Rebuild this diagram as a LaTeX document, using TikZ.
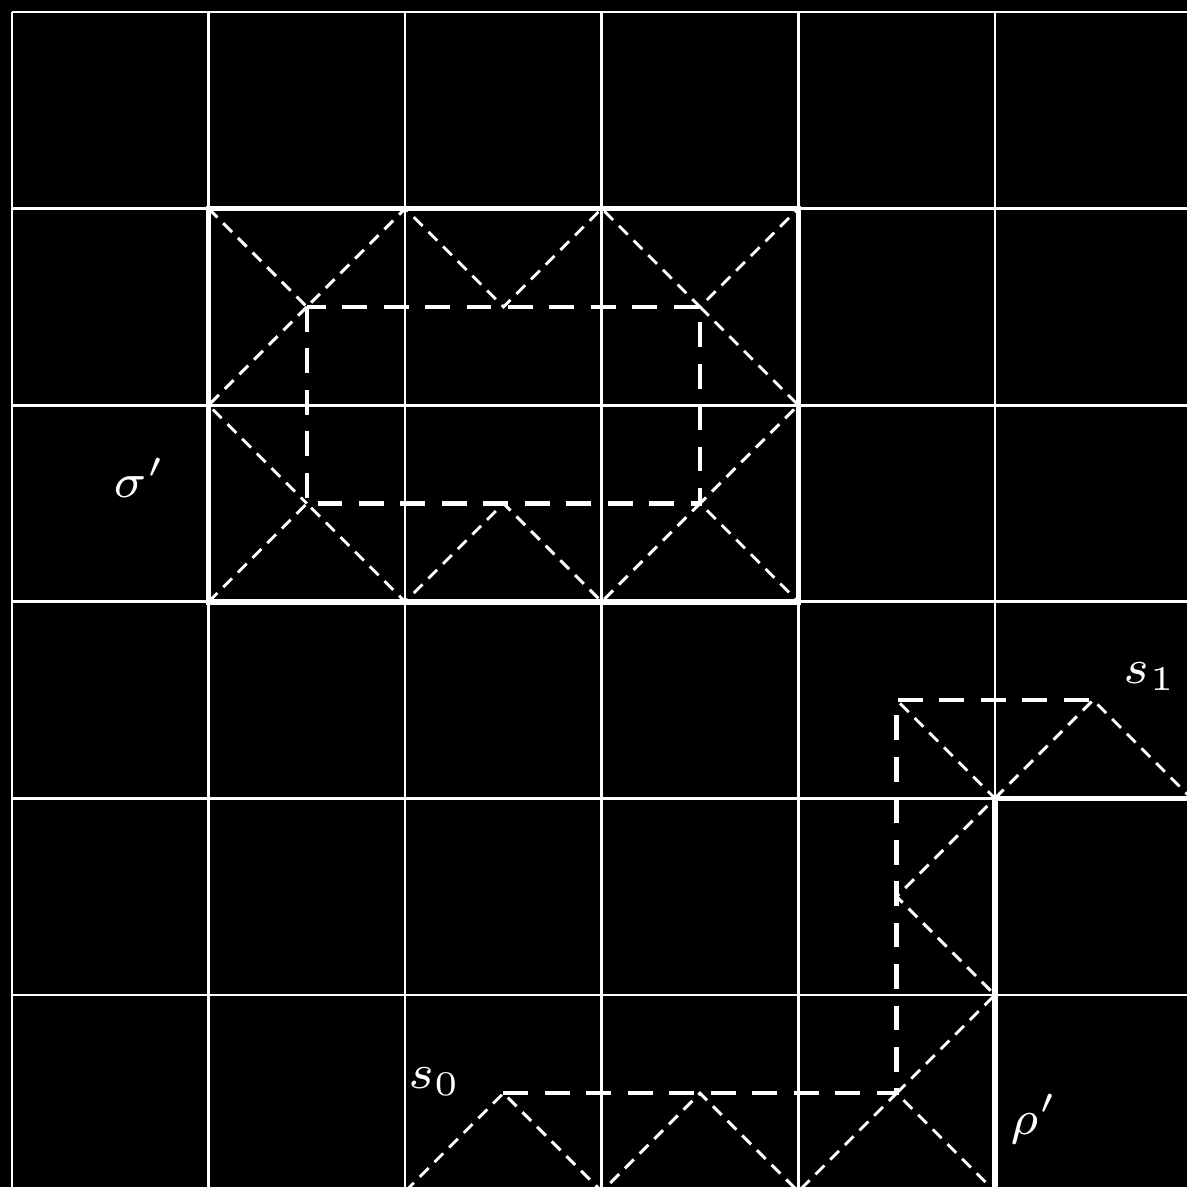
\documentclass[tikz,border=0pt]{standalone}
\begin{document}
\begin{tikzpicture}[x=1cm,y=-1cm,
  gridline/.style={white,line width=0.38pt},
  boundline/.style={white,line width=0.8pt},
  routeline/.style={white,line width=0.65pt,dash pattern=on 3.6pt off 2.4pt},
  diagline/.style={white,line width=0.42pt,dash pattern=on 1.8pt off 1.2pt},
  lab/.style={text=white,font=\fontsize{7.5}{9}\selectfont,inner sep=0pt}]
\useasboundingbox (-0.061,-0.061) rectangle (5.977,5.977);
\fill[black] (-0.061,-0.061) rectangle (5.977,5.977);
\clip (-0.061,-0.061) rectangle (5.977,5.977);
\draw[gridline] (0,0) grid (6,6);
% sigma' region
\draw[boundline] (1,1) rectangle (4,3);
\draw[routeline] (1.5,1.5) rectangle (3.5,2.5);
\draw[diagline] (1,1) -- (1.5,1.5) -- (2,1) -- (2.5,1.5) -- (3,1) -- (3.5,1.5) -- (4,1);
\draw[diagline] (1,3) -- (1.5,2.5) -- (2,3) -- (2.5,2.5) -- (3,3) -- (3.5,2.5) -- (4,3);
\draw[diagline] (1.5,1.5) -- (1,2) -- (1.5,2.5);
\draw[diagline] (3.5,1.5) -- (4,2) -- (3.5,2.5);
% rho' region
\draw[boundline] (6,4) -- (5,4) -- (5,6.1);
\coordinate (s0) at (2.5,5.5);
\coordinate (s1) at (5.5,3.5);
\coordinate (c1) at (4.5,5.5);
\coordinate (c2) at (4.5,3.5);
\draw[routeline] (s0) -- (c1) -- (c2) -- (s1);
\draw[diagline] (2,6) -- (s0) -- (3,6) -- (3.5,5.5) -- (4,6) -- (c1) -- (5,6);
\draw[diagline] (c1) -- (5,5) -- (4.5,4.5) -- (5,4) -- (c2);
\draw[diagline] (5,4) -- (s1) -- (6,4);
% labels
\node[lab] (sigma) at (0.65,2.37) {$\sigma'$};
\node[lab] (s1lab) at (5.79,3.38) {$s_1$};
\node[lab] (s0lab) at (2.15,5.44) {$s_0$};
\node[lab] (rho) at (5.2,5.63) {$\rho'$};
\end{tikzpicture}
\end{document}
